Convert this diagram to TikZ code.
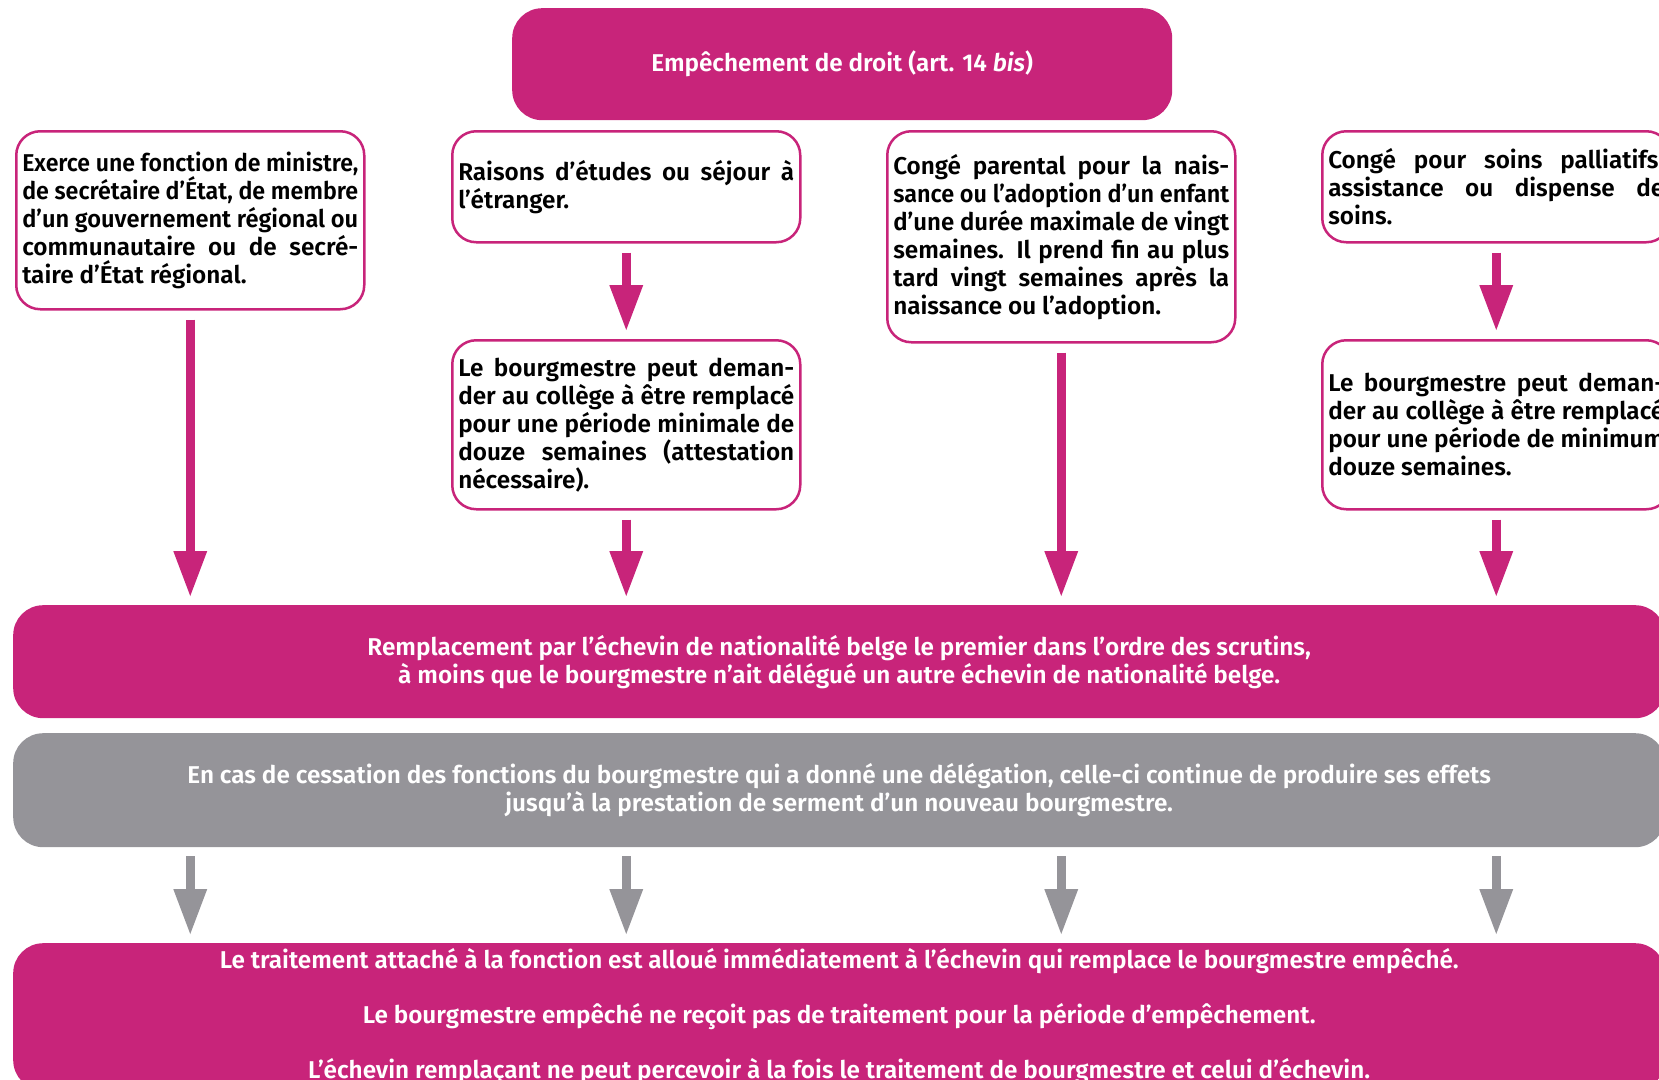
\documentclass[tikz,border=0pt]{standalone}
\usepackage{fontspec}
\setmainfont{Fira Sans}[UprightFont={* SemiBold},ItalicFont={* SemiBold Italic}]
\usepackage{xcolor}
\usepackage{graphicx}
\usetikzlibrary{arrows.meta}
\definecolor{rose}{RGB}{200,36,122}
\definecolor{gris}{RGB}{149,148,153}
% one justified line, squeezed when too long
\newsavebox\jlbox
\newcommand\jl[1]{\sbox\jlbox{#1}%
  \ifdim\wd\jlbox>336pt \resizebox{336pt}{\height}{\usebox\jlbox}%
  \else\makebox[336pt][s]{#1}\fi\\}

\tikzset{
  casebox/.style={draw=rose, line width=2.5pt, rounded corners=24pt, fill=white,
    inner xsep=6pt, inner ysep=0pt, text width=336pt, align=justify,
    minimum width=348pt, anchor=north west, text=black},
  rosebox/.style={fill=rose, rounded corners=30pt, text=white, align=center,
    inner sep=0pt, minimum width=1652pt, anchor=north west},
  grisbox/.style={rosebox, fill=gris},
  fleche/.style={-{Triangle[length=45pt,width=34pt,line width=0pt]}, line width=9pt,
    draw=rose, shorten <=9pt, shorten >=9pt},
  flechegris/.style={fleche, draw=gris},
}

\begin{document}
\begin{tikzpicture}[x=1pt, y=-1pt, font=\fontsize{24.3}{28}\selectfont]

\useasboundingbox (0,0) rectangle (1659,1079);
\clip (0,0) rectangle (1659,1079);

% top box
\node[rosebox, minimum width=660pt, minimum height=112pt] (empe) at (512,8)
  {Empêchement de droit (art. 14 \textit{bis})};

% the four cases
\node[casebox, minimum height=178pt] (exer) at (15,130)
  {\jl{Exerce une fonction de ministre,}\jl{de secrétaire d’État, de membre}\jl{d’un gouvernement régional ou}\jl{communautaire ou de secré-}taire d’État régional.};
\node[casebox, minimum height=111pt] (etud) at (451,130)
  {\jl{Raisons d’études ou séjour à}l’étranger.};
\node[casebox, minimum height=211pt] (conge) at (886,130)
  {\jl{Congé parental pour la nais-}\jl{sance ou l’adoption d’un enfant}\jl{d’une durée maximale de vingt}\jl{semaines. Il prend fin au plus}\jl{tard vingt semaines après la}naissance ou l’adoption.};
\node[casebox, minimum height=111pt] (soins) at (1321,130)
  {\jl{Congé pour soins palliatifs,}\jl{assistance ou dispense de}soins.};

% second row
\node[casebox, minimum height=169pt] (etud2) at (451,339)
  {\jl{Le bourgmestre peut deman-}\jl{der au collège à être remplacé}\jl{pour une période minimale de}\jl{douze semaines (attestation}nécessaire).};
\node[casebox, minimum height=169pt] (soins2) at (1321,339)
  {\jl{Le bourgmestre peut deman-}\jl{der au collège à être remplacé}\jl{pour une période de minimum}douze semaines.};

% wide boxes
\node[rosebox, minimum height=113pt] (repl) at (13,605)
  {Remplacement par l’échevin de nationalité belge le premier dans l’ordre des scrutins,\\
   à moins que le bourgmestre n’ait délégué un autre échevin de nationalité belge.};
\node[grisbox, minimum height=114pt] (cess) at (13,733)
  {En cas de cessation des fonctions du bourgmestre qui a donné une délégation, celle-ci continue de produire ses effets\\
   jusqu’à la prestation de serment d’un nouveau bourgmestre.};
\node[rosebox, minimum height=147pt] (trait) at (13,943)
  {Le traitement attaché à la fonction est alloué immédiatement à l’échevin qui remplace le bourgmestre empêché.\\[27pt]
   Le bourgmestre empêché ne reçoit pas de traitement pour la période d’empêchement.\\[27pt]
   L’échevin remplaçant ne peut percevoir à la fois le traitement de bourgmestre et celui d’échevin.};

% pink arrows
\draw[fleche] (exer) -- (exer.south |- repl.north);
\draw[fleche] (etud) -- (etud2);
\draw[fleche] (etud2) -- (etud2.south |- repl.north);
\draw[fleche] (conge) -- (conge.south |- repl.north);
\draw[fleche] (soins) -- (soins2);
\draw[fleche] (soins2) -- (soins2.south |- repl.north);

% grey arrows
\foreach \n in {exer,etud,conge,soins}
  \draw[flechegris] (cess.south -| \n.south) -- (trait.north -| \n.south);

\end{tikzpicture}
\end{document}
